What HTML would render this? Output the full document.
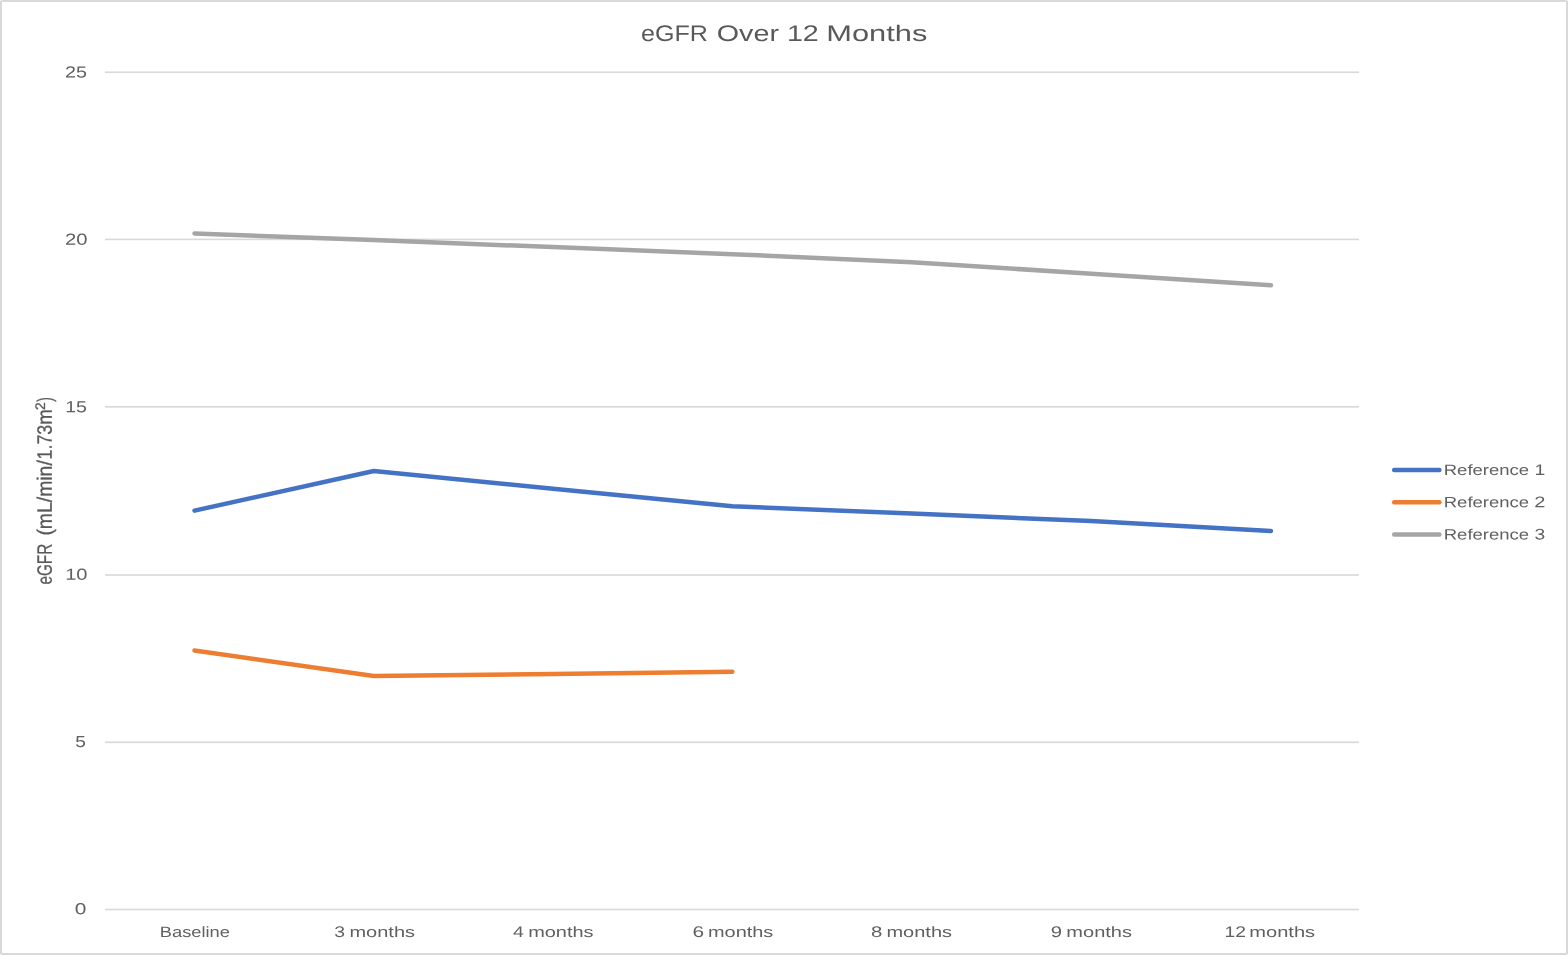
<!DOCTYPE html>
<html lang="en"><head><meta charset="utf-8"><title>eGFR Over 12 Months</title>
<style>html,body{margin:0;padding:0;background:#fff;}body{width:1568px;height:955px;overflow:hidden;}svg{display:block;will-change:transform;}text{font-family:"Liberation Sans",sans-serif;fill:#606060;text-rendering:geometricPrecision;}g text{fill:inherit;}</style></head><body>
<svg width="1568" height="955" viewBox="0 0 1568 955" role="img" aria-label="eGFR Over 12 Months line chart">
<rect x="0" y="0" width="1568" height="955" fill="#ffffff"/>
<!-- chart border -->
<rect x="1" y="1" width="1566" height="953" rx="1" ry="1" fill="none" stroke="#D9D9D9" stroke-width="2"/>
<!-- gridlines -->
<rect x="105" y="71.42" width="1254" height="1.65" fill="#D9D9D9"/>
<rect x="105" y="238.58" width="1254" height="1.65" fill="#D9D9D9"/>
<rect x="105" y="405.98" width="1254" height="1.65" fill="#D9D9D9"/>
<rect x="105" y="574.17" width="1254" height="1.65" fill="#D9D9D9"/>
<rect x="105" y="741.47" width="1254" height="1.65" fill="#D9D9D9"/>
<rect x="105" y="908.67" width="1254" height="1.65" fill="#D9D9D9"/>
<!-- title -->
<text x="641.14" y="41.00" transform="rotate(0.05 641.14 41.00)" font-size="22.6" textLength="66.78" lengthAdjust="spacingAndGlyphs" style="fill:#595959">eGFR</text>
<text x="716.84" y="41.00" transform="rotate(0.05 716.84 41.00)" font-size="22.6" textLength="62.13" lengthAdjust="spacingAndGlyphs" style="fill:#595959">Over</text>
<text x="786.92" y="41.00" transform="rotate(0.05 786.92 41.00)" font-size="22.6" textLength="31.82" lengthAdjust="spacingAndGlyphs" style="fill:#595959">12</text>
<text x="826.27" y="41.00" transform="rotate(0.05 826.27 41.00)" font-size="22.6" textLength="101.04" lengthAdjust="spacingAndGlyphs" style="fill:#595959">Months</text>
<!-- value axis labels -->
<text x="65.08" y="77.50" transform="rotate(0.05 65.08 77.50)" font-size="16.0" textLength="21.92" lengthAdjust="spacingAndGlyphs">25</text>
<text x="64.98" y="244.85" transform="rotate(0.05 64.98 244.85)" font-size="16.0" textLength="22.51" lengthAdjust="spacingAndGlyphs">20</text>
<text x="65.27" y="412.20" transform="rotate(0.05 65.27 412.20)" font-size="16.0" textLength="21.72" lengthAdjust="spacingAndGlyphs">15</text>
<text x="65.23" y="579.70" transform="rotate(0.05 65.23 579.70)" font-size="16.0" textLength="22.29" lengthAdjust="spacingAndGlyphs">10</text>
<text x="75.19" y="746.95" transform="rotate(0.05 75.19 746.95)" font-size="16.0" textLength="10.62" lengthAdjust="spacingAndGlyphs">5</text>
<text x="74.89" y="914.20" transform="rotate(0.05 74.89 914.20)" font-size="16.0" textLength="11.60" lengthAdjust="spacingAndGlyphs">0</text>
<!-- category axis labels -->
<text x="159.85" y="937.00" transform="rotate(0.05 159.85 937.00)" font-size="15.0" textLength="70.06" lengthAdjust="spacingAndGlyphs">Baseline</text>
<text x="334.16" y="937.00" transform="rotate(0.05 334.16 937.00)" font-size="15.4" textLength="10.79" lengthAdjust="spacingAndGlyphs">3</text>
<text x="349.47" y="937.00" transform="rotate(0.05 349.47 937.00)" font-size="15.0" textLength="65.55" lengthAdjust="spacingAndGlyphs">months</text>
<text x="513.05" y="937.00" transform="rotate(0.05 513.05 937.00)" font-size="15.4" textLength="10.82" lengthAdjust="spacingAndGlyphs">4</text>
<text x="528.17" y="937.00" transform="rotate(0.05 528.17 937.00)" font-size="15.0" textLength="65.45" lengthAdjust="spacingAndGlyphs">months</text>
<text x="692.44" y="937.00" transform="rotate(0.05 692.44 937.00)" font-size="15.4" textLength="11.57" lengthAdjust="spacingAndGlyphs">6</text>
<text x="707.98" y="937.00" transform="rotate(0.05 707.98 937.00)" font-size="15.0" textLength="65.34" lengthAdjust="spacingAndGlyphs">months</text>
<text x="871.02" y="937.00" transform="rotate(0.05 871.02 937.00)" font-size="15.4" textLength="11.32" lengthAdjust="spacingAndGlyphs">8</text>
<text x="886.47" y="937.00" transform="rotate(0.05 886.47 937.00)" font-size="15.0" textLength="65.55" lengthAdjust="spacingAndGlyphs">months</text>
<text x="1050.75" y="937.00" transform="rotate(0.05 1050.75 937.00)" font-size="15.4" textLength="11.32" lengthAdjust="spacingAndGlyphs">9</text>
<text x="1066.37" y="937.00" transform="rotate(0.05 1066.37 937.00)" font-size="15.0" textLength="65.65" lengthAdjust="spacingAndGlyphs">months</text>
<text x="1224.43" y="937.00" transform="rotate(0.05 1224.43 937.00)" font-size="15.4" textLength="21.44" lengthAdjust="spacingAndGlyphs">12</text>
<text x="1249.37" y="937.00" transform="rotate(0.05 1249.37 937.00)" font-size="15.0" textLength="65.76" lengthAdjust="spacingAndGlyphs">months</text>
<!-- value axis title (rotated) -->
<g transform="translate(51.8 583.9) rotate(-90)" style="fill:#595959;stroke:#595959;stroke-width:0.3">
<text x="-0.65" y="0.00" transform="rotate(0.05 -0.65 0.00)" font-size="20.8" textLength="40.76" lengthAdjust="spacingAndGlyphs">eGFR</text>
<text x="48.30" y="0.00" transform="rotate(0.05 48.30 0.00)" font-size="20.8" textLength="75.40" lengthAdjust="spacingAndGlyphs">(mL/min/</text>
<text x="124.44" y="0.00" transform="rotate(0.05 124.44 0.00)" font-size="20.8" textLength="34.64" lengthAdjust="spacingAndGlyphs">1.73</text>
<text x="159.16" y="0.00" transform="rotate(0.05 159.16 0.00)" font-size="20.8" textLength="15.57" lengthAdjust="spacingAndGlyphs">m</text>
<text x="173.80" y="-6.90" transform="rotate(0.05 173.80 -6.90)" font-size="13.8" textLength="7.69" lengthAdjust="spacingAndGlyphs">2</text>
<text x="182.12" y="0.00" transform="rotate(0.05 182.12 0.00)" font-size="20.8" textLength="4.52" lengthAdjust="spacingAndGlyphs">)</text>
</g>
<!-- series -->
<polyline points="194.50,510.60 373.75,471.00 553.00,488.65 732.30,506.30 911.80,513.60 1091.30,521.00 1270.90,531.10" fill="none" stroke="#4472C4" stroke-width="4.5" stroke-linecap="round" stroke-linejoin="round"/>
<polyline points="194.50,650.40 373.75,676.10 553.00,673.90 732.30,671.65" fill="none" stroke="#ED7D31" stroke-width="4.5" stroke-linecap="round" stroke-linejoin="round"/>
<polyline points="194.50,233.50 373.75,240.00 553.00,247.10 732.30,254.20 911.80,262.20 1091.30,273.70 1270.90,285.30" fill="none" stroke="#A5A5A5" stroke-width="4.5" stroke-linecap="round" stroke-linejoin="round"/>
<!-- legend -->
<line x1="1394.2" y1="470.00" x2="1439.4" y2="470.00" stroke="#4472C4" stroke-width="4.5" stroke-linecap="round"/>
<text x="1443.78" y="474.95" transform="rotate(0.05 1443.78 474.95)" font-size="15.0" textLength="85.34" lengthAdjust="spacingAndGlyphs">Reference</text>
<text x="1534.47" y="474.95" transform="rotate(0.05 1534.47 474.95)" font-size="15.4" textLength="10.77" lengthAdjust="spacingAndGlyphs">1</text>
<line x1="1394.2" y1="502.30" x2="1439.4" y2="502.30" stroke="#ED7D31" stroke-width="4.5" stroke-linecap="round"/>
<text x="1443.78" y="507.25" transform="rotate(0.05 1443.78 507.25)" font-size="15.0" textLength="85.34" lengthAdjust="spacingAndGlyphs">Reference</text>
<text x="1534.20" y="507.25" transform="rotate(0.05 1534.20 507.25)" font-size="15.4" textLength="11.11" lengthAdjust="spacingAndGlyphs">2</text>
<line x1="1394.2" y1="534.60" x2="1439.4" y2="534.60" stroke="#A5A5A5" stroke-width="4.5" stroke-linecap="round"/>
<text x="1443.78" y="539.55" transform="rotate(0.05 1443.78 539.55)" font-size="15.0" textLength="85.34" lengthAdjust="spacingAndGlyphs">Reference</text>
<text x="1534.47" y="539.55" transform="rotate(0.05 1534.47 539.55)" font-size="15.4" textLength="10.67" lengthAdjust="spacingAndGlyphs">3</text>
</svg></body></html>
